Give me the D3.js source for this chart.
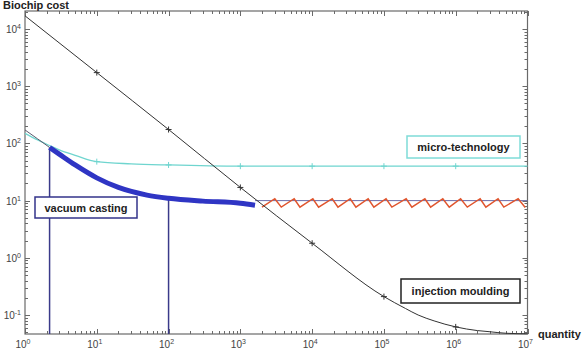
<!DOCTYPE html>
<html>
<head>
<meta charset="utf-8">
<script src="https://cdn.jsdelivr.net/npm/d3@7"></script>
<style>
  body { margin: 0; background: #fff; }
  text { font-family: "Liberation Sans", Arial, sans-serif; }
</style>
</head>
<body>
<div id="chart"></div>
<script>
// injection moulding (black)
var mouldQty  = [1, 10, 100, 1000, 1e4, 1e5, 2e5, 3e5, 5e5, 1e6, 2e6, 3e6, 5e6, 1e7];
var mouldCost = [17000, 1730, 175, 17, 1.8, 0.21, 0.13, 0.10, 0.079, 0.062, 0.0535, 0.051, 0.048, 0.047];
var mouldMarks = [10, 100, 1000, 1e4, 1e5, 1e6];

// micro-technology (cyan)
var microQty  = [1, 1.5, 2.2, 3, 5, 10, 30, 100, 1000, 1e4, 1e5, 1e6, 1e7];
var microCost = [150, 115, 92, 77, 62, 48, 44, 42, 40, 40, 40, 40, 40];
var microMarks = [10, 100, 1000, 1e4, 1e5, 1e6];

// vacuum casting
var vacThinQty  = [1, 1.5, 2.2];
var vacThinCost = [172, 120, 85];
var vacQty  = [2.2, 3, 5, 10, 20, 50, 100, 300, 1000, 1600];
var vacCost = [85, 65, 42, 25, 17, 12.5, 11, 9.8, 9, 8.3];
var vacFlatQty  = [1600, 1e7];
var vacFlatCost = [10, 10];
var vacDrops = [2.2, 100];

// stepwise (red) zigzag
var zigQty  = [2000, 3020, 3715, 5620, 6760, 10230, 12300, 19050, 22900, 33900, 40700,
               60300, 72400, 107000, 129000, 204000, 245000, 372000, 447000, 661000, 813000,
               1.17e6, 1.45e6, 2.19e6, 2.63e6, 3.89e6, 4.68e6, 7.41e6, 9.3e6];
var zigCost = [7.7, 10.8, 7.7, 10.8, 7.7, 10.8, 7.7, 10.8, 7.7, 10.8, 7.7,
               10.8, 7.7, 10.8, 7.7, 10.8, 7.7, 10.8, 7.7, 10.8, 7.7,
               10.8, 7.7, 10.8, 7.7, 10.8, 7.7, 10.8, 7.6];

var xDecades = [0, 1, 2, 3, 4, 5, 6, 7];
var yDecades = [-1, 0, 1, 2, 3, 4];

var width = 583, height = 356;
var svg = d3.select("#chart").append("svg")
    .attr("width", width).attr("height", height);

var x = d3.scaleLog().domain([1, 1e7]).range([25, 527.5]);
var y = d3.scaleLog().domain([0.0466, 20650]).range([334, 11]);

var axisColor = "#6a6a6a";

// minor + major tick values
function allTicks(scale) {
    var d = scale.domain(), out = [];
    var lo = Math.floor(Math.log10(d[0])), hi = Math.ceil(Math.log10(d[1]));
    for (var e = lo; e <= hi; e++) {
        for (var m = 1; m < 10; m++) {
            var v = m * Math.pow(10, e);
            if (v >= d[0] * 0.999 && v <= d[1] * 1.001) out.push(v);
        }
    }
    return out;
}
function isMajor(v) {
    var l = Math.log10(v);
    return Math.abs(l - Math.round(l)) < 1e-6;
}

var xt = allTicks(x), yt = allTicks(y);
var x0 = x.range()[0], x1 = x.range()[1], y0 = y.range()[0], y1 = y.range()[1];

var ticks = svg.append("g").attr("stroke", axisColor).attr("stroke-width", 1);
xt.forEach(function(v) {
    var len = isMajor(v) ? 5 : 3, px = Math.round(x(v)) + 0.5;
    ticks.append("line").attr("x1", px).attr("x2", px).attr("y1", y0).attr("y2", y0 - len);
    ticks.append("line").attr("x1", px).attr("x2", px).attr("y1", y1).attr("y2", y1 + len);
});
yt.forEach(function(v) {
    var len = isMajor(v) ? 5 : 3, py = Math.round(y(v)) + 0.5;
    ticks.append("line").attr("x1", x0).attr("x2", x0 + len).attr("y1", py).attr("y2", py);
    ticks.append("line").attr("x1", x1).attr("x2", x1 - len).attr("y1", py).attr("y2", py);
});

svg.append("rect")
    .attr("x", x0).attr("y", y1)
    .attr("width", x1 - x0).attr("height", y0 - y1)
    .attr("fill", "none").attr("stroke", axisColor).attr("stroke-width", 1.2);

// tick labels
var labels = svg.append("g").attr("fill", "#444").attr("font-size", 10);
xDecades.forEach(function(e) {
    var t = labels.append("text").attr("x", x(Math.pow(10, e)) - 2).attr("y", 348)
        .attr("text-anchor", "middle");
    t.append("tspan").text("10");
    t.append("tspan").attr("dy", -4).attr("font-size", 7).text(e);
});
yDecades.forEach(function(e) {
    var t = labels.append("text").attr("x", 21).attr("y", y(Math.pow(10, e)) + 4)
        .attr("text-anchor", "end");
    t.append("tspan").text("10");
    t.append("tspan").attr("dy", -4).attr("font-size", 7).text(e);
});

svg.append("text").attr("x", 3).attr("y", 9)
    .attr("font-size", 11).attr("font-weight", "bold").attr("fill", "#222")
    .text("Biochip cost");
svg.append("text").attr("x", 538).attr("y", 338)
    .attr("font-size", 11).attr("font-weight", "bold").attr("fill", "#222")
    .text("quantity");

var plot = svg.append("g");

function path(qs, cs, curve) {
    return d3.line()
        .x(function(d, i) { return x(qs[i]); })
        .y(function(d, i) { return y(cs[i]); })
        .curve(curve || d3.curveMonotoneX)(qs);
}
function lookup(qs, cs, q) {
    return cs[qs.indexOf(q)];
}
function plus(g, px, py, color) {
    g.append("path")
        .attr("d", "M" + (px - 3) + "," + py + "H" + (px + 3) + "M" + px + "," + (py - 3) + "V" + (py + 3))
        .attr("stroke", color).attr("stroke-width", 1).attr("fill", "none");
}

// vacuum casting drop lines
vacDrops.forEach(function(q) {
    plot.append("line")
        .attr("x1", x(q)).attr("x2", x(q))
        .attr("y1", y(lookup(vacQty, vacCost, q))).attr("y2", y0)
        .attr("stroke", "#3a3a8a").attr("stroke-width", 1.5);
});

// micro-technology
plot.append("path").attr("d", path(microQty, microCost))
    .attr("fill", "none").attr("stroke", "#6fd5cf").attr("stroke-width", 1.3);
microMarks.forEach(function(q) {
    plus(plot, x(q), y(lookup(microQty, microCost, q)), "#6fd5cf");
});

// vacuum casting
plot.append("path").attr("d", path(vacThinQty, vacThinCost))
    .attr("fill", "none").attr("stroke", "#5a5a6e").attr("stroke-width", 1);
plot.append("path").attr("d", path(vacFlatQty, vacFlatCost, d3.curveLinear))
    .attr("fill", "none").attr("stroke", "#6a6aa8").attr("stroke-width", 1);
plot.append("path").attr("d", path(vacQty, vacCost))
    .attr("fill", "none").attr("stroke", "#2f35c4").attr("stroke-width", 5);

// zigzag
plot.append("path").attr("d", path(zigQty, zigCost, d3.curveLinear))
    .attr("fill", "none").attr("stroke", "#e0552e").attr("stroke-width", 1.5)
    .attr("stroke-linejoin", "miter");

// injection moulding
plot.append("path").attr("d", path(mouldQty, mouldCost))
    .attr("fill", "none").attr("stroke", "#333").attr("stroke-width", 1);
mouldMarks.forEach(function(q) {
    plus(plot, x(q), y(lookup(mouldQty, mouldCost, q)), "#333");
});

// annotation boxes
function box(bx, by, bw, bh, label, color) {
    svg.append("rect").attr("x", bx).attr("y", by).attr("width", bw).attr("height", bh)
        .attr("fill", "#fff").attr("stroke", color).attr("stroke-width", 1.5);
    svg.append("text").attr("x", bx + bw / 2).attr("y", by + bh / 2 + 4)
        .attr("text-anchor", "middle").attr("font-size", 11).attr("font-weight", "bold")
        .attr("fill", "#222").text(label);
}
box(35, 197, 102, 21, "vacuum casting", "#33338a");
box(407, 136, 113, 22, "micro-technology", "#7fdcd8");
box(401, 279, 119, 24, "injection moulding", "#222");
</script>
</body>
</html>
